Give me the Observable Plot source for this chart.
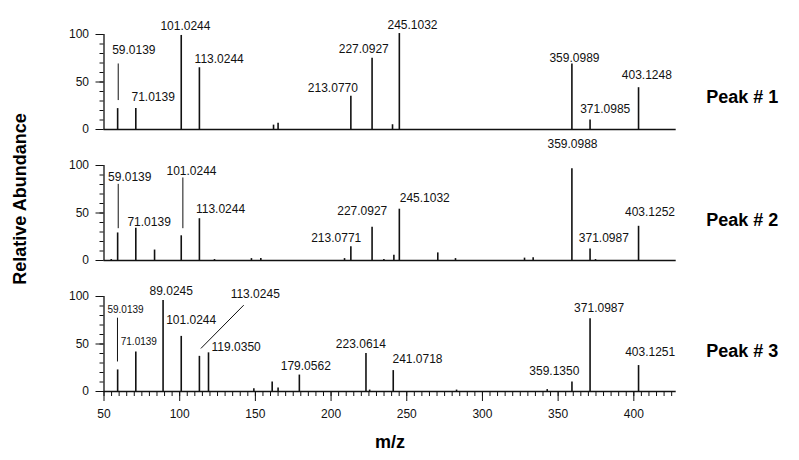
<!DOCTYPE html>
<html><head><meta charset="utf-8">
<script src="https://cdn.jsdelivr.net/npm/d3@7"></script>
<script src="https://cdn.jsdelivr.net/npm/@observablehq/plot@0.6"></script>
<style>body{margin:0;background:#fff;}</style>
</head><body><div id="chart"></div>
<script>
// ---- data ----
const panels = ["Peak # 1", "Peak # 2", "Peak # 3"];

const p1Mz = [59.0139, 71.0139, 101.0244, 113.0244, 162.0, 165.0, 213.0770, 227.0927, 240.6, 245.1032, 359.0989, 371.0985, 403.1248];
const p1Ab = [22, 22, 99, 65, 4.6, 6.7, 35, 75, 5, 101, 69, 10, 44];

const p2Mz = [54.8, 59.0139, 71.0139, 83.4, 101.0244, 113.0244, 123.0, 147.4, 153.6, 208.9, 213.0771, 227.0927, 234.9, 241.5, 245.1032, 270.5, 282.2, 327.8, 333.5, 359.0988, 371.0987, 374.7, 403.1252];
const p2Ab = [1, 29, 34, 11, 26, 44, 1, 2, 2, 2, 14.6, 35, 1, 5.5, 54, 8, 2, 2.5, 3, 96.5, 12, 1, 36];

const p3Mz = [59.0139, 71.0139, 89.0245, 101.0244, 113.0245, 119.0350, 149.0, 161.1, 165.0, 179.0562, 223.0614, 225.5, 241.0718, 282.9, 342.8, 359.1350, 371.0987, 403.1251];
const p3Ab = [22.7, 41.7, 95.7, 58, 37, 40.7, 3, 10, 3.6, 17.3, 40, 1.5, 22, 1.5, 2, 10, 76.6, 27.3];

// peak labels: text, anchor m/z, anchor abundance
const p1Labels = [["59.0139", 69.7, 83.0], ["71.0139", 82.5, 33.8], ["101.0244", 103.8, 108.3], ["113.0244", 126.1, 73.6], ["213.0770", 201.2, 43.8], ["227.0927", 221.6, 84.1], ["245.1032", 253.8, 109.8], ["359.0989", 360.8, 75], ["403.1248", 408.6, 56.7], ["371.0985", 381.1, 21.3]];
const p2Labels = [["59.0139", 67, 88.1], ["71.0139", 79.8, 40.7], ["101.0244", 107.8, 94.2], ["113.0244", 127, 54.3], ["213.0771", 203.4, 23.8], ["227.0927", 220.6, 51.8], ["245.1032", 261.9, 65.4], ["359.0988", 359.5, 122], ["403.1252", 410.7, 50.8], ["371.0987", 380.2, 23.8]];
const p3Labels = [["59.0139", 64.2, 85.5], ["71.0139", 73, 52.1], ["89.0245", 94.4, 105.4], ["101.0244", 107.6, 74.8], ["113.0245", 149.9, 102.5], ["119.0350", 137.3, 46.7], ["179.0562", 183.3, 27], ["223.0614", 219.7, 49.6], ["241.0718", 257.1, 34.5], ["359.1350", 347.5, 21.6], ["371.0987", 377.1, 87.4], ["403.1251", 410.8, 41.3]];
const p3SmallLabels = ["59.0139", "71.0139"];

// leader lines: x1, y1, x2, y2 (data units)
const p1Leaders = [[59.4, 31, 59.4, 69.5]];
const p2Leaders = [[59.4, 34, 59.4, 80.7], [102.1, 34, 102.1, 87.4]];
const p3Leaders = [[58.9, 31.6, 58.9, 77.7], [114, 45.3, 142.3, 90.9]];

const panelLabelAb = [34, 42, 42];

const xMajor = [50, 100, 150, 200, 250, 300, 350, 400];
const yMajor = [0, 50, 100];

// ---- build tables ----
const peaks = [];
[[p1Mz, p1Ab], [p2Mz, p2Ab], [p3Mz, p3Ab]].forEach(([mz, ab], i) =>
  mz.forEach((m, j) => peaks.push({panel: panels[i], mz: m, ab: ab[j]})));
const labels = [];
[p1Labels, p2Labels, p3Labels].forEach((L, i) =>
  L.forEach(([t, lx, ly]) => labels.push({panel: panels[i], t, lx, ly,
    fs: (i === 2 && p3SmallLabels.includes(t)) ? 10 : 12})));
const leaders = [];
[p1Leaders, p2Leaders, p3Leaders].forEach((L, i) =>
  L.forEach(([x1, y1, x2, y2]) => leaders.push({panel: panels[i], x1, y1, x2, y2})));

const ink = "#111";
const blank = () => "";
const chart = Plot.plot({
  width: 799, height: 460,
  marginLeft: 103.5, marginRight: 123.3, marginTop: 34, marginBottom: 69,
  style: {fontFamily: "'Liberation Sans', Arial, sans-serif", fontSize: "12px", color: ink, background: "#fff"},
  x: {domain: [50, 428]},
  y: {domain: [0, 100]},
  fy: {domain: panels, axis: null, paddingInner: 0.275, paddingOuter: 0},
  marks: [
    Plot.ruleY([0], {stroke: ink, strokeWidth: 1.5}),
    Plot.ruleX([50], {y1: 0, y2: 100, stroke: ink, strokeWidth: 1.3}),
    Plot.axisY({ticks: yMajor, tickSize: 8, tickPadding: 7, label: null, stroke: ink}),
    Plot.axisY({ticks: d3.range(0, 101, 10), tickSize: 4, tickFormat: blank, label: null, stroke: ink}),
    Plot.axisX({ticks: xMajor, tickSize: 10, tickPadding: 8, label: null, stroke: ink}),
    Plot.axisX({ticks: d3.range(50, 426, 5), tickSize: 5, tickFormat: blank, label: null, stroke: ink}),
    Plot.ruleX(peaks, {x: "mz", y1: 0, y2: "ab", fy: "panel", stroke: ink, strokeWidth: 1.6}),
    Plot.link(leaders, {x1: "x1", y1: "y1", x2: "x2", y2: "y2", fy: "panel", stroke: ink, strokeWidth: 1}),
    Plot.text(labels, {x: "lx", y: "ly", text: "t", fy: "panel", fontSize: d => d.fs, fill: ink}),
    Plot.text(panels, {fy: d => d, text: d => d, y: (d, i) => panelLabelAb[i], frameAnchor: "right",
      textAnchor: "middle", dx: 66, fontWeight: "bold", fontSize: 18, fill: "#000"}),
    Plot.text(["Relative Abundance"], {fy: () => panels[1], text: d => d, frameAnchor: "left",
      textAnchor: "middle", lineAnchor: "middle", rotate: -90, dx: -83.5, dy: -14,
      fontWeight: "bold", fontSize: 18, fill: "#000"}),
    Plot.text(["m/z"], {fy: () => panels[2], text: d => d, frameAnchor: "bottom",
      textAnchor: "middle", lineAnchor: "middle", dy: 51, fontWeight: "bold", fontSize: 18, fill: "#000"})
  ]
});
document.getElementById("chart").append(chart);
</script>
</body></html>
